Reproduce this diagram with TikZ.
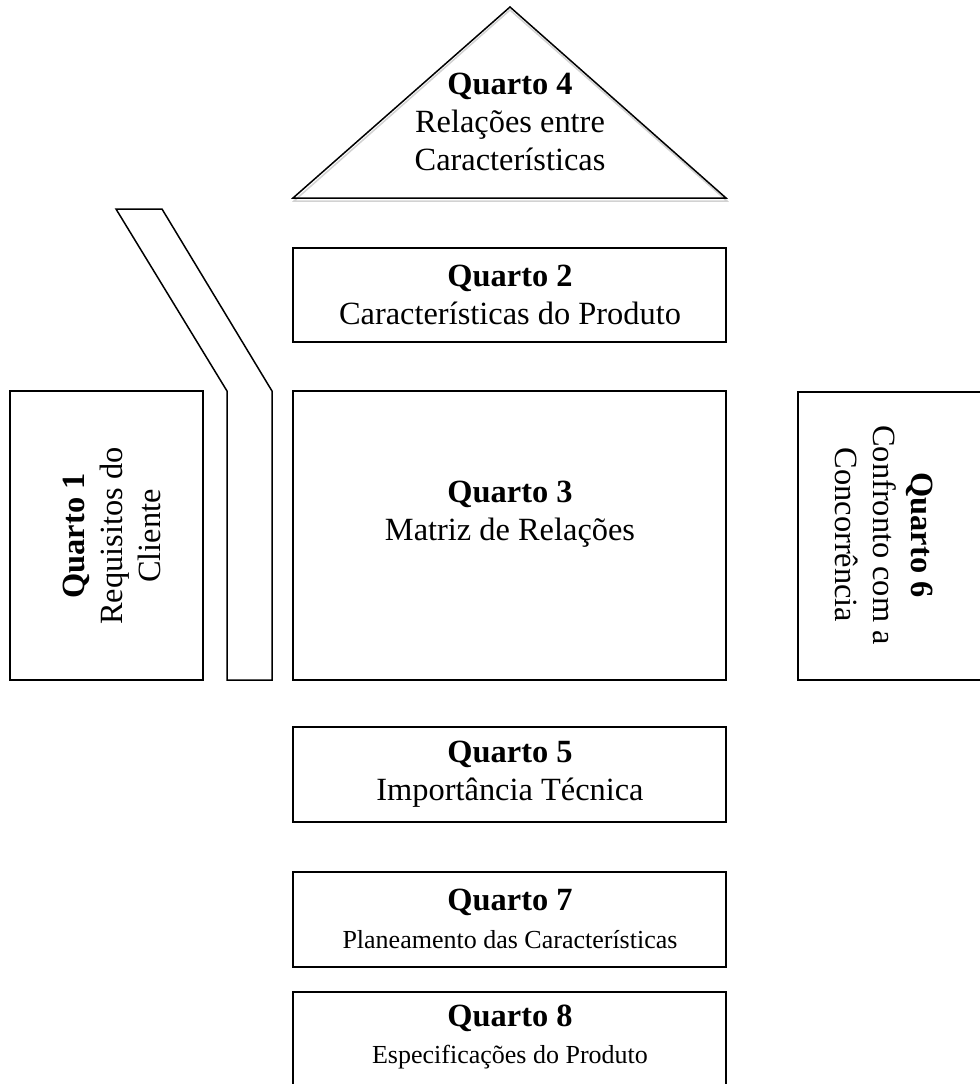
\documentclass[tikz,border=0pt]{standalone}
\usepackage{fontspec}
\setmainfont{Liberation Serif}
\begin{document}
\begin{tikzpicture}[x=0.5pt,y=-0.5pt,
  room/.style={draw=black,line width=0.75pt},
  label/.style={align=center,font=\fontsize{16.2}{18.8}\selectfont,inner sep=0pt},
  smalllabel/.style={align=center,font=\fontsize{13}{18.8}\selectfont,inner sep=0pt}]
\useasboundingbox (0,0) rectangle (980,1084);
\clip (0,0) rectangle (980,1084);

% roof: relations between characteristics
\draw[gray!35,line width=0.75pt] (294,201) -- (510,10) -- (727,201) -- cycle;
\draw[room] (293,198) -- (510,7) -- (726,198) -- cycle;
\node[label] (q4) at (510,122) {\textbf{Quarto 4}\\Relações entre\\Características};

% chimney-like strip beside the matrix
\draw[room] (116,209) -- (162,209) -- (272,391) -- (272,680) -- (227,680) -- (227,391) -- cycle;

% rooms
\draw[room] (293,248) rectangle (726,342);
\node[label] (q2) at (510,295) {\textbf{Quarto 2}\\Características do Produto};

\draw[room] (293,391) rectangle (726,680);
\node[label] (q3) at (510,514) {\textbf{Quarto 3}\\Matriz de Relações};

\draw[room] (10,391) rectangle (203,680);
\node[label,rotate=90] (q1) at (112,536) {\textbf{Quarto 1}\\Requisitos do\\Cliente};

\draw[room] (798,392) rectangle (990,680);
\node[label,rotate=-90] (q6) at (884,535) {\textbf{Quarto 6}\\Confronto com a\\Concorrência};

\draw[room] (293,727) rectangle (726,822);
\node[label] (q5) at (510,774) {\textbf{Quarto 5}\\Importância Técnica};

\draw[room] (293,872) rectangle (726,967);
\node[smalllabel] (q7) at (510,919) {{\fontsize{16.2}{18.8}\selectfont\textbf{Quarto 7}}\\Planeamento das Características};

\draw[room] (293,992) rectangle (726,1110);
\node[smalllabel] (q8) at (510,1037) {{\fontsize{16.2}{18.8}\selectfont\textbf{Quarto 8}}\\Especificações do Produto};
\end{tikzpicture}
\end{document}
